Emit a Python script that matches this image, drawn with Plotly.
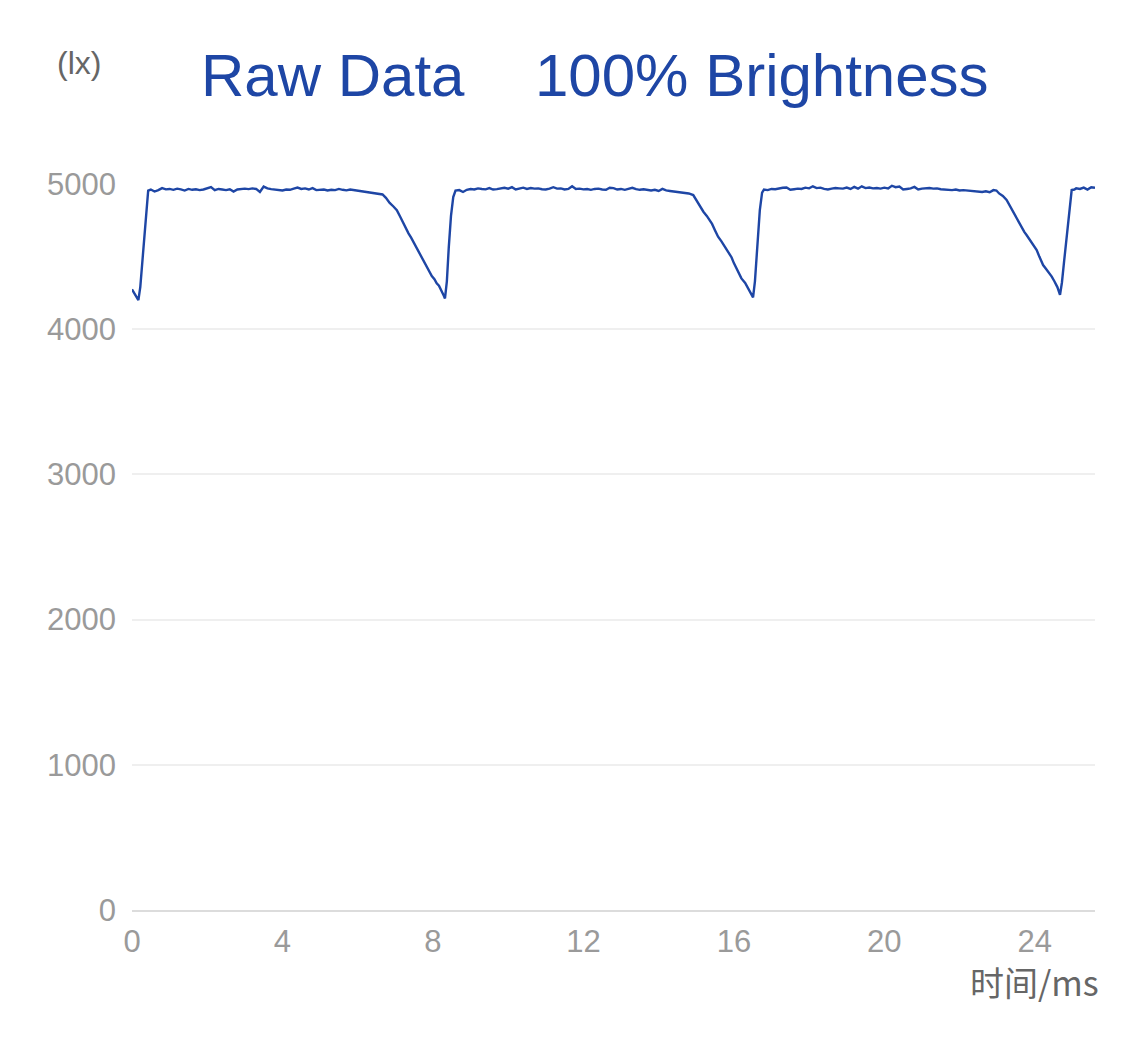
import plotly.graph_objects as go

# ---- data (time in ms, illuminance in lx) ----
time_ms = [
    0.0, 0.05, 0.1, 0.17, 0.22, 0.28, 0.34, 0.39, 0.43,
    0.5, 0.6, 0.7, 0.8, 0.9, 1.0, 1.1, 1.2, 1.3, 1.4, 1.5, 1.6, 1.7, 1.8, 1.9,
    2.0, 2.1, 2.2, 2.3, 2.4, 2.5, 2.6, 2.7, 2.8, 2.9, 3.0, 3.1, 3.2, 3.3, 3.4,
    3.5, 3.6, 3.7, 3.8, 3.9, 4.0, 4.1, 4.2, 4.3, 4.4, 4.5, 4.6, 4.7, 4.8, 4.9,
    5.0, 5.1, 5.2, 5.3, 5.4, 5.5, 5.6, 5.7, 5.8, 5.9, 6.0, 6.1, 6.2, 6.3,
    6.41, 6.55, 6.66, 6.75, 6.85, 6.95, 7.04, 7.12, 7.21, 7.28, 7.35, 7.42, 7.5,
    7.6, 7.7, 7.78, 7.85, 7.92, 7.97, 8.04, 8.1, 8.16, 8.22, 8.28, 8.32, 8.37,
    8.42, 8.48, 8.54, 8.6,
    8.7, 8.8, 8.9, 9.0, 9.1, 9.2, 9.3, 9.4, 9.5, 9.6, 9.7, 9.8, 9.9, 10.0,
    10.1, 10.2, 10.3, 10.4, 10.5, 10.6, 10.7, 10.8, 10.9, 11.0, 11.1, 11.2,
    11.3, 11.4, 11.5, 11.6, 11.7, 11.8, 11.9, 12.0, 12.1, 12.2, 12.3, 12.4,
    12.5, 12.6, 12.7, 12.8, 12.9, 13.0, 13.1, 13.2, 13.3, 13.4, 13.5, 13.6,
    13.7, 13.8, 13.9, 14.0, 14.1, 14.2, 14.3, 14.4, 14.5, 14.6, 14.7,
    14.8, 14.92, 15.0, 15.1, 15.19, 15.28, 15.36, 15.42, 15.5, 15.58, 15.67,
    15.76, 15.85, 15.94, 16.0, 16.07, 16.14, 16.2, 16.3, 16.38, 16.45, 16.51,
    16.56, 16.62, 16.69, 16.75, 16.8,
    16.9, 17.0, 17.1, 17.2, 17.3, 17.4, 17.5, 17.6, 17.7, 17.8, 17.9, 18.0,
    18.1, 18.2, 18.3, 18.4, 18.5, 18.6, 18.7, 18.8, 18.9, 19.0, 19.1, 19.2,
    19.3, 19.4, 19.5, 19.6, 19.7, 19.8, 19.9, 20.0, 20.1, 20.2, 20.3, 20.4,
    20.5, 20.6, 20.7, 20.8, 20.9, 21.0, 21.1, 21.2, 21.3, 21.4, 21.5, 21.6,
    21.7, 21.8, 21.9, 22.0, 22.1, 22.2, 22.3, 22.4, 22.5, 22.6, 22.7, 22.8, 22.9,
    22.98, 23.05, 23.15, 23.25, 23.38, 23.51, 23.58, 23.65, 23.72, 23.78, 23.92,
    24.05, 24.12, 24.22, 24.3, 24.38, 24.45, 24.52, 24.6, 24.67, 24.72, 24.78,
    24.85, 24.92, 24.98,
    25.05, 25.1, 25.2, 25.3, 25.4, 25.5, 25.6,
]

lux = [
    4275, 4255, 4228, 4200, 4290, 4480, 4700, 4880, 4955,
    4962, 4948, 4958, 4972, 4963, 4966, 4960, 4968, 4963, 4955, 4966, 4960, 4964, 4958, 4962,
    4970, 4978, 4957, 4966, 4962, 4958, 4964, 4948, 4962, 4966, 4968, 4965, 4970, 4966, 4945,
    4982, 4970, 4965, 4962, 4958, 4955, 4962, 4960, 4968, 4975, 4966, 4970, 4962, 4972, 4958,
    4960, 4962, 4955, 4960, 4958, 4966, 4960, 4956, 4962, 4958, 4955, 4950, 4946, 4944,
    4942, 4935, 4928, 4905, 4870, 4845, 4820, 4780, 4730, 4700, 4660, 4630, 4592,
    4545, 4500, 4460, 4420, 4395, 4366, 4345, 4316, 4300, 4262, 4235, 4212, 4330,
    4560, 4780, 4910, 4955,
    4958, 4945, 4960, 4965, 4962, 4970, 4966, 4963, 4972, 4962, 4965, 4970, 4974, 4968,
    4978, 4962, 4968, 4975, 4966, 4972, 4968, 4970, 4964, 4962, 4968, 4978,
    4968, 4970, 4962, 4966, 4985, 4966, 4968, 4963, 4965, 4960, 4966, 4968,
    4962, 4960, 4974, 4972, 4962, 4966, 4960, 4968, 4974, 4965, 4960, 4964,
    4958, 4955, 4960, 4952, 4966, 4956, 4952, 4948, 4946, 4944, 4938,
    4935, 4924, 4890, 4845, 4809, 4780, 4752, 4725, 4680, 4637, 4605,
    4568, 4530, 4494, 4455, 4418, 4385, 4350, 4318, 4281, 4250, 4219,
    4330, 4560, 4820, 4940, 4962,
    4958, 4966, 4964, 4970, 4974, 4976, 4960, 4964, 4968, 4966, 4975, 4970,
    4984, 4972, 4975, 4966, 4962, 4968, 4972, 4970, 4968, 4975, 4966, 4980,
    4968, 4984, 4972, 4976, 4970, 4972, 4968, 4975, 4970, 4988, 4978, 4982,
    4962, 4966, 4970, 4980, 4962, 4968, 4970, 4972, 4968, 4970, 4964, 4962,
    4960, 4958, 4962, 4955, 4958, 4955, 4952, 4950, 4948, 4945, 4950, 4943, 4958,
    4955, 4935, 4918, 4890, 4830, 4763, 4735, 4700, 4670, 4649, 4598,
    4545, 4500, 4442, 4415, 4390, 4362, 4330, 4290, 4236, 4320, 4470,
    4637, 4850, 4958,
    4962, 4970, 4966, 4975, 4962, 4978, 4974,
]

x_ticks = [0, 4, 8, 12, 16, 20, 24]
y_ticks = [0, 1000, 2000, 3000, 4000, 5000]

title_left = "Raw Data"
title_right = "100% Brightness"
y_unit = "(lx)"
x_name = "时间/ms"

# ---- layout geometry (pixels; page body has an 8px margin) ----
OFF = 8
W, H = 1125 - OFF, 1040 - OFF
L, R, T = 132 - OFF, 30, 184 - OFF
B = H - T - 726
pw, ph = W - L - R, H - T - B


def px(xp):
    # page pixel -> paper coordinate
    return (xp - OFF - L) / pw


def py(yp):
    return (H - B - (yp - OFF)) / ph


BLUE = "#1e46a5"
FONT = "Liberation Sans, Arial, sans-serif"

fig = go.Figure()
fig.add_trace(go.Scatter(
    x=time_ms, y=lux, mode="lines",
    line=dict(color=BLUE, width=2.4),
    hoverinfo="x+y", showlegend=False,
))

fig.update_layout(
    width=W, height=H,
    margin=dict(l=L, r=R, t=T, b=B, pad=0),
    paper_bgcolor="white", plot_bgcolor="white",
    font=dict(family=FONT),
    showlegend=False,
    xaxis=dict(
        range=[0, 25.6], tickvals=x_ticks, ticktext=[str(v) for v in x_ticks],
        showgrid=False, zeroline=False,
        showline=True, linecolor="#dcdcdc", linewidth=2,
        ticks="", ticklabelstandoff=3,
        tickfont=dict(size=31, color="#9a9a9a", family=FONT),
        fixedrange=True,
    ),
    yaxis=dict(
        range=[0, 5000], tickvals=y_ticks, ticktext=[str(v) for v in y_ticks],
        showgrid=True, gridcolor="#efefef", gridwidth=2,
        zeroline=False, showline=False,
        ticks="", ticklabelstandoff=15,
        tickfont=dict(size=31, color="#9a9a9a", family=FONT),
        fixedrange=True,
    ),
    annotations=[
        dict(text=title_left, xref="paper", yref="paper", x=px(199), y=py(75),
             xanchor="left", yanchor="middle", showarrow=False,
             font=dict(size=60, color=BLUE, family=FONT)),
        dict(text=title_right, xref="paper", yref="paper", x=px(533), y=py(75),
             xanchor="left", yanchor="middle", showarrow=False,
             font=dict(size=60, color=BLUE, family=FONT)),
        dict(text=y_unit, xref="paper", yref="paper", x=px(79), y=py(63),
             xanchor="center", yanchor="middle", showarrow=False,
             font=dict(size=32, color="#666666", family=FONT)),
        dict(text=x_name, xref="paper", yref="paper", x=px(1101), y=py(981),
             xanchor="right", yanchor="middle", showarrow=False,
             font=dict(size=34, color="#666666",
                       family="Noto Sans CJK SC, Liberation Sans, sans-serif")),
    ],
)

fig.write_html("out.html")
